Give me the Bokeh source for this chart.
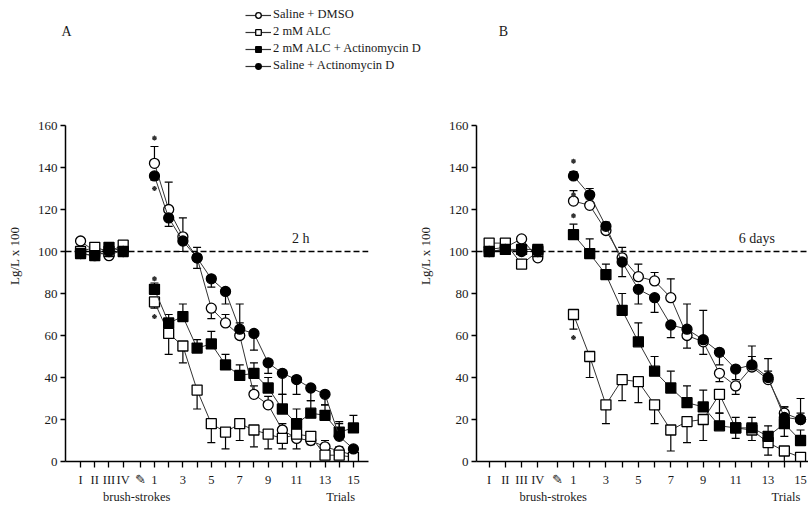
from bokeh.plotting import figure
from bokeh.models import (ColumnDataSource, Range1d, FixedTicker, Span, Label, LinearAxis,
                          Legend, LegendItem, Whisker, TeeHead)
from bokeh.layouts import column, row
from bokeh.embed import file_html
from bokeh.resources import INLINE

FONT = "Liberation Serif"
INK = "#1a1a1a"

# ---------------- data ----------------
trials = list(range(1, 16))
trial_labels = [str(t) if t % 2 else "" for t in trials]
brush_pos = [-4.2, -3.2, -2.2, -1.2]
brush_labels = ["I", "II", "III", "IV"]
break_pos = 0
break_label = "\u270e"
y_ticks = [0, 20, 40, 60, 80, 100, 120, 140, 160]
y_title = "Lg/L x 100"
y_title_pos = 98
bottom_text_pos = [-0.25, 14.1]
bottom_texts = ["brush-strokes", "Trials"]

names = ["Saline + DMSO", "2 mM ALC", "2 mM ALC + Actinomycin D", "Saline + Actinomycin D"]
markers = ["circle", "square", "square", "circle"]
fills = ["white", "white", "black", "black"]

# Panel A (2 h)
a_dmso_brush = [105, 100, 98, 101]
a_dmso = [142, 120, 107, 97, 73, 66, 60, 32, 27, 15, 11, 10, 7, 5, 3]
a_dmso_err = [8, 13, 9, 5, -5, 4, 6, 4, 4, 3, 3, 3, 3, 2, 2]
a_alc_brush = [100, 102, 100, 103]
a_alc = [76, 61, 55, 34, 18, 14, 18, 15, 13, 11, 13, 12, 3, 3, 2]
a_alc_err = [-3, -10, -8, -9, -9, -8, -8, -8, -7, -5, -7, -4, -2, -2, -1]
a_alcact_brush = [99, 98, 102, 100]
a_alcact = [82, 66, 69, 54, 56, 46, 41, 42, 35, 25, 18, 23, 22, 14, 16]
a_alcact_err = [3, 4, 6, 4, 6, 5, 5, 5, 5, 7, 7, 6, 5, 5, 6]
a_salact_brush = [99, 98, 100, 100]
a_salact = [136, 116, 105, 97, 87, 81, 63, 61, 47, 42, 39, 35, 32, 12, 6]
a_salact_err = [-2, -4, -5, -5, -4, -6, 12, -8, -5, -10, -7, -6, -5, 6, -3]
a_star_y = [154, 130, 87, 69]

# Panel B (6 days)
b_dmso_brush = [101, 102, 106, 97]
b_dmso = [124, 122, 110, 97, 88, 86, 78, 60, 57, 42, 36, 45, 39, 23, 20]
b_dmso_err = [5, 3, 3, 5, 6, 4, 9, -6, -6, -4, -4, 5, 4, 3, 3]
b_alc_brush = [104, 104, 94, 100]
b_alc = [70, 50, 27, 39, 38, 27, 15, 19, 20, 32, 16, 15, 9, 5, 2]
b_alc_err = [-7, -10, -9, -10, -10, -9, -10, -10, -10, -9, -5, -5, -6, -5, -2]
b_alcact_brush = [100, 101, 101, 101]
b_alcact = [108, 99, 89, 72, 57, 43, 35, 28, 26, 17, 16, 16, 12, 18, 10]
b_alcact_err = [5, 7, 5, 8, 9, 7, 8, 8, 8, 6, 5, 5, 5, -6, 5]
b_salact_brush = [100, 101, 100, 100]
b_salact = [136, 127, 112, 95, 82, 78, 65, 63, 58, 52, 44, 46, 40, 21, 20]
b_salact_err = [2, 3, 2, -7, -7, -7, -6, 12, 14, -6, -5, 9, 9, 5, 10]
b_star_y = [143, 127, 117, 59]

panel_a = [(a_dmso_brush, a_dmso, a_dmso_err), (a_alc_brush, a_alc, a_alc_err),
           (a_alcact_brush, a_alcact, a_alcact_err), (a_salact_brush, a_salact, a_salact_err)]
panel_b = [(b_dmso_brush, b_dmso, b_dmso_err), (b_alc_brush, b_alc, b_alc_err),
           (b_alcact_brush, b_alcact, b_alcact_err), (b_salact_brush, b_salact, b_salact_err)]

PANEL_H = 406
FRAME_H = 338
TOP_B = 25


def text_axis(ticks, labels, standoff, size):
    ax = LinearAxis(ticker=FixedTicker(ticks=ticks, minor_ticks=[]),
                    major_label_overrides={t: l for t, l in zip(ticks, labels)})
    ax.axis_line_color = None
    ax.major_tick_line_color = None
    ax.minor_tick_line_color = None
    ax.major_tick_in = 0
    ax.major_tick_out = 0
    ax.major_label_standoff = standoff
    ax.major_label_text_font = FONT
    ax.major_label_text_font_size = size
    ax.major_label_text_color = INK
    return ax


def make_panel(series, stars, note, note_x, width, b_left, b_right, x0, x1):
    p = figure(width=width, height=PANEL_H, x_range=Range1d(x0, x1), y_range=Range1d(0, 160),
               output_backend="svg", toolbar_location=None,
               min_border_left=b_left, min_border_right=b_right,
               min_border_top=TOP_B, min_border_bottom=PANEL_H - TOP_B - FRAME_H)
    p.grid.visible = False
    p.outline_line_color = None

    p.yaxis.ticker = FixedTicker(ticks=y_ticks, minor_ticks=[])
    p.xaxis.ticker = FixedTicker(ticks=brush_pos + [break_pos] + trials, minor_ticks=[])
    overrides = {bp: bl for bp, bl in zip(brush_pos, brush_labels)}
    overrides[break_pos] = break_label
    overrides.update({t: tl for t, tl in zip(trials, trial_labels)})
    p.xaxis.major_label_overrides = overrides
    for ax in (p.xaxis, p.yaxis):
        ax.axis_line_color = "black"
        ax.axis_line_width = 1.5
        ax.major_tick_line_color = "black"
        ax.major_tick_line_width = 1.3
        ax.major_tick_in = 0
        ax.minor_tick_line_color = None
        ax.major_label_text_font = FONT
        ax.major_label_text_color = INK
    p.yaxis.major_label_text_font_size = "13px"
    p.xaxis.major_label_text_font_size = "12.5px"
    p.yaxis.major_tick_out = 5
    p.yaxis.major_label_standoff = 3
    p.xaxis.major_tick_out = 6
    p.xaxis.major_label_standoff = 5

    # y title as an outer left text axis, centred where the reference puts it
    ytitle = text_axis([y_title_pos], [y_title], 12, "13px")
    ytitle.major_label_orientation = "vertical"
    p.add_layout(ytitle, "left")
    # "brush-strokes" and "Trials" under the tick labels
    p.add_layout(text_axis(bottom_text_pos, bottom_texts, 0, "12.5px"), "below")

    p.add_layout(Span(location=100, dimension="width", line_color="black",
                      line_dash="6 3", line_width=1.3))

    for (bvals, tvals, errs), mk, fc in zip(series, markers, fills):
        lower = [v + min(e, 0) for v, e in zip(tvals, errs)]
        upper = [v + max(e, 0) for v, e in zip(tvals, errs)]
        src = ColumnDataSource(dict(x=trials, y=tvals, lower=lower, upper=upper))
        bsrc = ColumnDataSource(dict(x=brush_pos, y=bvals))
        p.add_layout(Whisker(source=src, base="x", lower="lower", upper="upper",
                             line_color="black", line_width=1.2,
                             upper_head=TeeHead(size=8, line_color="black", line_width=1.2),
                             lower_head=TeeHead(size=8, line_color="black", line_width=1.2)))
        for s in (bsrc, src):
            p.line("x", "y", source=s, line_color="#333333", line_width=1)
            p.scatter("x", "y", source=s, marker=mk, size=10, fill_color=fc,
                      line_color="black", line_width=1.3)

    p.scatter(x=[1] * len(stars), y=stars, marker="asterisk", size=5,
              line_color="#333333", line_width=1.2)

    p.add_layout(Label(x=note_x, y=106, text=note, text_font=FONT, text_font_size="14px",
                       text_color=INK, text_align="center", text_baseline="middle"))
    return p


pa = make_panel(panel_a, a_star_y, "2 h", 11.3, 413, 65, 45, -5.26, 16.06)
pb = make_panel(panel_b, b_star_y, "6 days", 12.3, 395, 63, 0, -4.98, 15.49)

# top strip with panel letters and legend
top = figure(width=808, height=100, x_range=Range1d(0, 1), y_range=Range1d(0, 1),
             output_backend="svg", toolbar_location=None, min_border=0,
             x_axis_location=None, y_axis_location=None)
top.grid.visible = False
top.outline_line_color = None
items = []
for nm, mk, fc in zip(names, markers, fills):
    # legend-only renderers: points outside the visible range
    rl = top.line(x=[-5, -4], y=[-5, -5], line_color="#333333", line_width=1.2)
    rs = top.scatter(x=[-5], y=[-5], marker=mk, size=9, fill_color=fc,
                     line_color="black", line_width=1.3)
    items.append(LegendItem(label=nm, renderers=[rl, rs]))
legend = Legend(items=items, location=(245, 27), orientation="vertical", padding=0, spacing=2,
                glyph_width=26, glyph_height=14, label_height=14, label_standoff=2,
                label_text_font=FONT, label_text_font_size="12.5px", label_text_color=INK,
                border_line_color=None, background_fill_alpha=0, margin=0)
top.add_layout(legend)
top.add_layout(Label(x=66, y=69, x_units="screen", y_units="screen", text="A", text_font=FONT,
                     text_font_size="14px", text_color=INK, text_align="center", text_baseline="middle"))
top.add_layout(Label(x=503, y=69, x_units="screen", y_units="screen", text="B", text_font=FONT,
                     text_font_size="14px", text_color=INK, text_align="center", text_baseline="middle"))

layout = column(top, row(pa, pb))
open("out.html", "w").write(file_html(layout, INLINE))
